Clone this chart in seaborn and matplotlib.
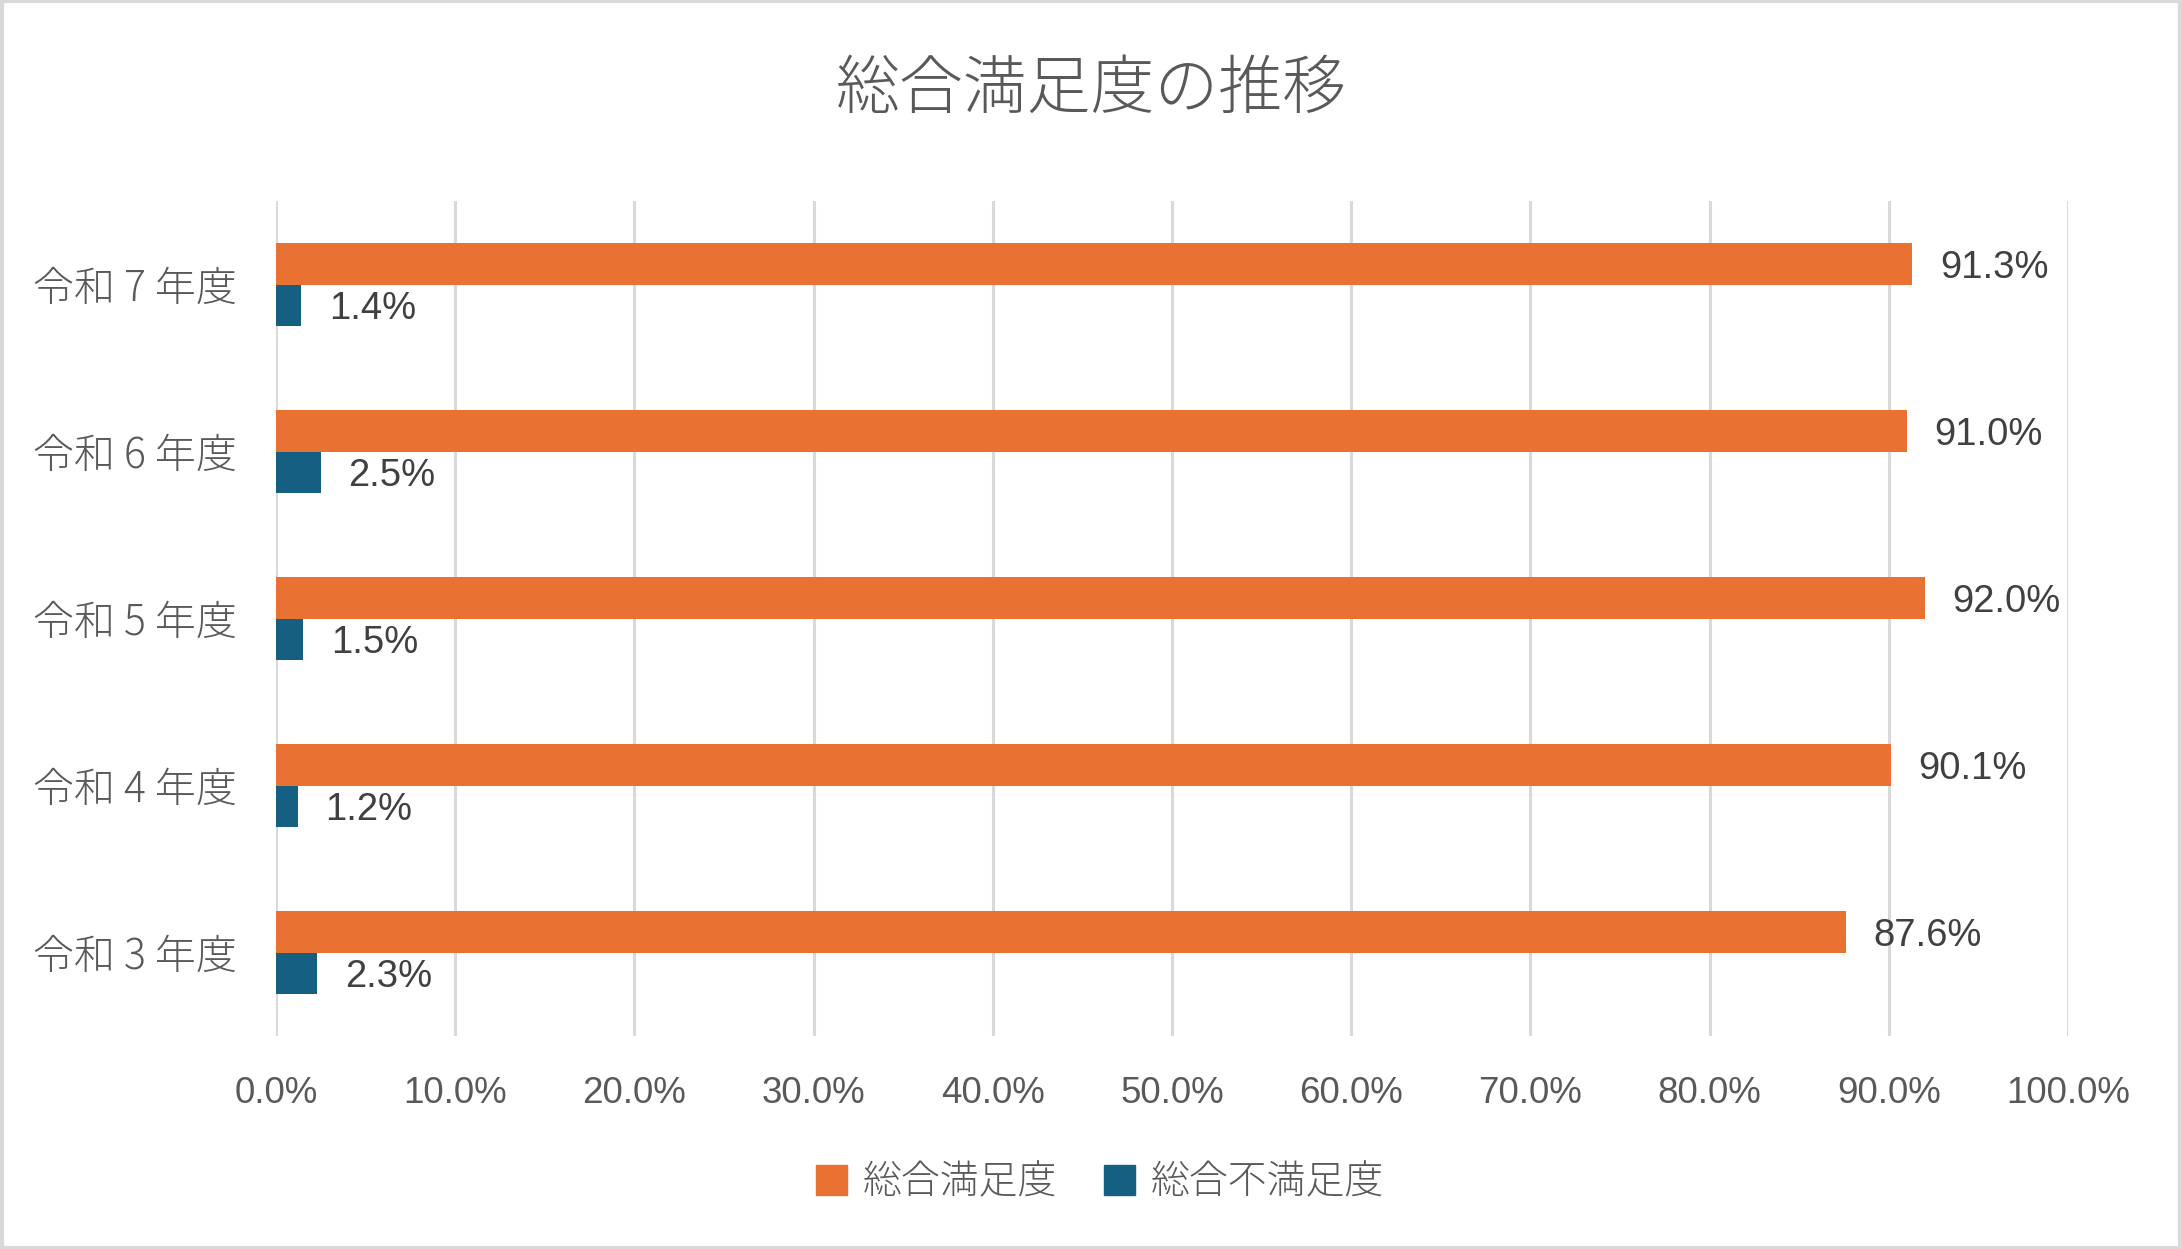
import matplotlib
matplotlib.use("Agg")
import matplotlib.pyplot as plt
import seaborn as sns
import pandas as pd
from matplotlib.ticker import FuncFormatter, MultipleLocator
from matplotlib.patches import Rectangle

categories = ["令和 7 年度", "令和 6 年度", "令和 5 年度", "令和 4 年度", "令和 3 年度"]
satisfied = [91.3, 91.0, 92.0, 90.1, 87.6]
dissatisfied = [1.4, 2.5, 1.5, 1.2, 2.3]
series_names = ["総合満足度", "総合不満足度"]
title = "総合満足度の推移"
colors = ["#E97132", "#156082"]

df = pd.DataFrame({
    "category": categories * 2,
    "series": [series_names[0]] * len(categories) + [series_names[1]] * len(categories),
    "value": satisfied + dissatisfied,
})

sns.set_theme(style="white")
plt.rcParams['font.family'] = ['Noto Sans CJK JP', 'DejaVu Sans']

fig = plt.figure(figsize=(21.82, 12.49), dpi=100)
ax = fig.add_axes([276/2182, 1 - 1036/1249, (2068-276)/2182, (1036-201)/1249])

sns.barplot(data=df, y="category", x="value", hue="series", order=categories,
            hue_order=series_names, palette=colors, orient="h", width=0.5,
            ax=ax, saturation=1, legend=False, edgecolor="none")

ax.set_xlim(0, 100)
ax.set_ylim(4.5, -0.5)
ax.xaxis.set_major_locator(MultipleLocator(10))
ax.xaxis.set_major_formatter(FuncFormatter(lambda v, p: f"{v:.1f}%"))
ax.grid(axis="x", color="#D9D9D9", linewidth=2.2)
ax.set_axisbelow(True)
for s in ax.spines.values():
    s.set_visible(False)
ax.set_xlabel("")
ax.set_ylabel("")
ax.tick_params(axis="x", length=0, pad=29, labelsize=26.5, labelcolor="#595959")
ax.tick_params(axis="y", length=0, pad=28, labelsize=29.5, labelcolor="#595959")
for lbl in ax.get_xticklabels():
    lbl.set_fontfamily(['Liberation Sans', 'Noto Sans CJK JP'])
for lbl in ax.get_yticklabels():
    lbl.set_fontweight('light')

for cont in ax.containers:
    texts = ax.bar_label(cont, labels=[f"{b.get_width():.1f}%" for b in cont], padding=20,
                         fontsize=27.5, color="#404040",
                         family=['Liberation Sans', 'Noto Sans CJK JP'])
    for t in texts:
        t.set_verticalalignment("center_baseline")

fig.text(0.5, 1 - 90/1249, title, ha="center", va="center", fontsize=46,
         color="#595959", fontweight="light")

handles = [Rectangle((0, 0), 1, 1, color=c) for c in colors]
leg = fig.legend(handles, series_names, loc="center", bbox_to_anchor=(0.504, 1 - 1183/1249),
                 ncol=2, frameon=False, fontsize=28, labelcolor="#595959",
                 handlelength=0.8, handleheight=0.8, handletextpad=0.4, columnspacing=1.2)
for t in leg.get_texts():
    t.set_fontweight('light')

fig.patches.append(Rectangle((0.001, 0.001), 0.998, 0.998, transform=fig.transFigure,
                             fill=False, edgecolor="#D9D9D9", linewidth=3))

fig.savefig("out.png", dpi=100, facecolor="white")
